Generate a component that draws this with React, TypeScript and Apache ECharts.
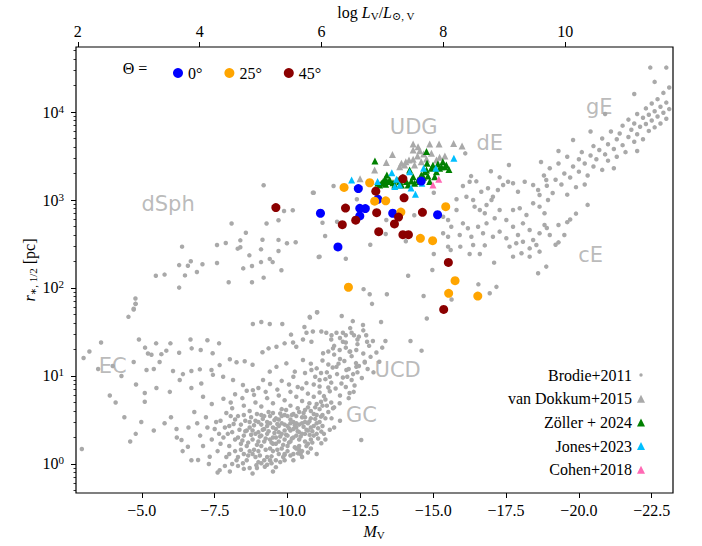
import React, { useEffect, useRef } from 'react';
import * as echarts from 'echarts';

// ---------- data: [M_V, r_half (pc)] ----------
const brodie: [number, number][] = [
  // dSph
  [-9.18, 1470], [-10.9, 1210], [-9.88, 750], [-10.18, 764], [-8.08, 540], [-9.28, 540], [-9.69, 588], [-8.57, 425],
  [-6.38, 295], [-7.58, 308], [-7.88, 325], [-8.38, 348], [-8.29, 280], [-8.38, 290], [-9.14, 354], [-9.69, 352],
  [-9.98, 322], [-10.28, 331], [-9.09, 275], [-9.69, 263], [-8.69, 235], [-9.39, 214], [-9.49, 197], [-9.09, 197],
  [-7.58, 192], [-7.08, 186], [-6.68, 201], [-6.58, 179], [-6.28, 182], [-8.48, 167], [-8.78, 178], [-9.79, 159],
  [-6.89, 152], [-6.48, 139], [-5.78, 142], [-5.48, 138], [-9.18, 131], [-7.98, 116], [-8.78, 116], [-6.28, 101],
  [-4.78, 76], [-4.78, 66], [-4.72, 57], [-4.54, 47], [-11.07, 225], [-10.76, 47], [-11.01, 53],
  // UCD / EC upper
  [-4.72, 58], [-4.79, 66], [-12.9, 66], [-14.78, 45], [-11.02, 53], [-10.77, 46], [-11.86, 48], [-12.24, 42],
  [-12.59, 38], [-13.21, 41], [-8.81, 39], [-9.1, 41], [-9.39, 39], [-9.82, 39], [-10.58, 36], [-10.65, 31],
  [-10.87, 32], [-11.16, 32], [-11.33, 31], [-11.51, 29], [-11.68, 31], [-11.9, 31], [-12.0, 29], [-10.12, 29.5],
  [-10.53, 26], [-10.19, 24], [-12.28, 29], [-12.4, 26], [-12.73, 24.5], [-12.93, 25], [-13.36, 25], [-14.22, 25],
  [-14.6, 19.4], [-4.9, 26], [-5.49, 23.5], [-5.98, 23.5], [-6.67, 26], [-7.25, 25.5], [-7.65, 23.5], [-5.11, 21],
  [-5.21, 18], [-5.33, 17.4], [-5.67, 17.7], [-5.84, 19.4], [-6.28, 18.4], [-6.71, 20.6], [-7.02, 19.7], [-7.43, 18.1],
  [-4.72, 14.4], [-5.61, 14.4], [-5.16, 11.7], [-5.41, 12.0], [-6.07, 11.4], [-6.41, 10.5], [-6.7, 11.4], [-6.99, 11.9],
  [-7.39, 11.7], [-7.67, 13.3], [-8.02, 15.5], [-8.25, 14.3], [-8.53, 14.7], [-8.8, 13.4], [-9.14, 18.6], [-9.35, 20.6],
  [-9.62, 21.5], [-9.9, 23.5], [-10.3, 21.5], [-10.82, 24.5], [-11.22, 18.1], [-11.56, 20.6], [-11.79, 19.7], [-12.13, 18.9],
  [-12.36, 19.7], [-11.9, 24.5], [-12.65, 14.5], [-12.36, 12.7], [-12.02, 11.7], [-11.68, 12.7], [-11.45, 9.8], [-11.1, 9.0],
  [-10.82, 11.7], [-10.53, 15.2], [-10.25, 11.2], [-9.96, 13.9], [-9.62, 12.7], [-9.39, 11.2], [-9.16, 9.0], [-8.81, 6.9],
  [-8.47, 7.9], [-8.13, 9.0], [-7.79, 9.8], [-7.44, 10.3], [-7.04, 8.2], [-6.7, 7.3], [-6.3, 9.0], [-5.96, 6.6],
  [-5.5, 7.3], [-5.1, 6.4], [-5.1, 5.1], [-4.98, 3.0], [-4.79, 2.2], [-5.41, 2.4], [-5.78, 2.9], [-6.19, 2.5],
  [-6.36, 1.87], [-6.58, 1.57], [-6.93, 1.11], [-7.33, 1.21], [-7.67, 0.85], [-8.02, 0.82], [-8.47, 1.02], [-8.93, 0.97],
  [-9.22, 0.93], [-9.45, 1.02], [-9.9, 1.27], [-10.36, 1.32], [-10.76, 2.14], [-11.16, 2.33], [-11.16, 1.72], [-11.51, 3.3],
  [-11.56, 4.3], [-11.79, 4.9], [-12.13, 6.4], [-12.27, 6.6], [-12.53, 1.87],
  [-11.6, 22], [-11.8, 27], [-12.0, 24], [-12.2, 31], [-12.45, 28], [-12.6, 33], [-12.15, 35], [-11.5, 26], [-11.4, 19], [-12.7, 29],
  // GC core
  [-8.5, 2.1], [-8.6, 1.6], [-8.7, 2.6], [-8.8, 1.9], [-8.9, 3.1], [-9.0, 2.3], [-9.0, 1.4], [-9.1, 2.8], [-9.2, 1.8],
  [-9.2, 3.5], [-9.3, 2.2], [-9.4, 1.5], [-9.4, 2.9], [-9.5, 2.0], [-9.5, 3.8], [-9.6, 1.7], [-9.6, 2.5], [-9.7, 3.2],
  [-9.7, 1.3], [-9.8, 2.2], [-9.8, 4.2], [-9.9, 1.9], [-9.9, 2.8], [-10.0, 3.5], [-10.0, 1.6], [-10.1, 2.4], [-10.1, 4.6],
  [-10.2, 2.0], [-10.2, 3.0], [-10.3, 1.5], [-10.3, 2.6], [-10.4, 3.9], [-10.4, 1.9], [-10.5, 2.9], [-10.5, 5.2], [-10.6, 2.2],
  [-10.6, 3.4], [-10.7, 1.7], [-10.7, 4.4], [-10.8, 2.6], [-10.9, 3.7], [-10.9, 5.8], [-11.0, 2.9], [-11.0, 4.8], [-11.1, 6.5],
  [-11.2, 3.6], [-11.3, 5.4], [-11.4, 7.4], [-8.3, 1.2], [-8.4, 2.8], [-8.5, 3.6], [-8.6, 1.1], [-8.7, 1.4], [-8.8, 2.4],
  [-8.9, 1.2], [-9.0, 3.0], [-9.1, 1.6], [-9.1, 2.1], [-9.2, 2.5], [-9.3, 1.2], [-9.3, 3.0], [-9.4, 1.9], [-9.5, 1.4],
  [-9.5, 2.6], [-9.6, 3.3], [-9.6, 1.1], [-9.7, 2.3], [-9.7, 1.8], [-9.8, 1.5], [-9.8, 2.9], [-9.9, 3.6], [-9.9, 1.3],
  [-10.0, 2.1], [-10.0, 2.7], [-10.1, 1.8], [-10.1, 3.2], [-10.2, 1.3], [-10.2, 2.5], [-10.3, 3.5], [-10.3, 2.1], [-10.4, 1.6],
  [-10.4, 2.8], [-10.5, 2.2], [-10.5, 1.4], [-10.6, 3.0], [-10.6, 4.1], [-10.7, 2.4], [-10.8, 3.3], [-10.8, 1.9], [-10.9, 2.7],
  [-11.0, 3.6], [-11.0, 2.2], [-11.1, 4.2], [-11.2, 2.7], [-11.3, 3.3], [-8.0, 1.6], [-8.1, 2.3], [-8.2, 1.4], [-8.2, 3.2],
  [-8.3, 2.0], [-8.4, 1.7], [-8.6, 2.4], [-8.7, 3.0], [-8.8, 1.3], [-8.9, 2.2], [-9.0, 1.8], [-9.1, 3.6], [-9.2, 1.1],
  [-9.3, 2.7], [-9.4, 3.5], [-9.5, 1.7], [-9.6, 2.0], [-9.7, 2.7], [-9.8, 3.5], [-9.9, 2.4], [-10.0, 1.4], [-10.1, 2.9],
  [-10.2, 3.7], [-10.3, 2.9], [-10.4, 2.3], [-10.5, 3.4], [-10.6, 1.8], [-10.7, 2.9], [-10.8, 4.0], [-10.9, 2.1], [-11.1, 3.0],
  [-11.2, 4.6], [-11.4, 3.9], [-11.5, 5.0], [-11.6, 4.4],
  [-7.6, 1.4], [-7.8, 2.0], [-7.9, 1.2], [-8.0, 2.7], [-8.1, 1.0], [-8.3, 0.95], [-8.5, 1.3], [-8.7, 0.9], [-9.0, 1.05],
  [-9.3, 0.98], [-9.6, 0.92], [-9.9, 1.1], [-10.2, 1.1], [-10.5, 1.2], [-10.8, 1.5], [-11.0, 1.3], [-11.3, 1.9], [-11.6, 2.6],
  [-11.8, 3.1], [-7.5, 2.5], [-7.7, 3.1], [-7.9, 3.8], [-8.1, 4.3], [-8.3, 3.5], [-8.5, 4.6], [-8.7, 4.0], [-8.9, 5.0],
  [-9.1, 4.5], [-9.3, 5.6], [-9.5, 4.9], [-9.7, 6.0], [-9.9, 5.3], [-10.1, 6.6], [-10.3, 5.8], [-10.5, 7.2], [-10.7, 6.3],
  [-10.9, 8.0], [-11.1, 7.6], [-11.3, 9.2], [-11.5, 8.4], [-11.7, 10.5], [-11.9, 9.6], [-12.1, 12.0], [-11.8, 6.0], [-12.0, 7.5],
  [-12.2, 9.0], [-12.4, 11.0], [-7.2, 3.4], [-7.0, 2.1], [-6.8, 3.9], [-6.6, 2.6], [-7.4, 4.8], [-7.1, 5.8], [-7.8, 5.5],
  [-8.2, 6.2], [-8.6, 6.8], [-9.0, 7.3], [-9.4, 8.1], [-9.8, 8.8], [-10.2, 9.8], [-10.6, 10.8], [-11.0, 12.2], [-11.4, 13.5],
  [-11.8, 15.6], [-12.2, 16.8], [-12.6, 18.0], [-11.6, 17.5], [-12.0, 21.0], [-12.4, 23.0], [-12.8, 22.0], [-11.2, 15.0],
  [-10.8, 13.8], [-6.4, 1.4], [-6.2, 2.0], [-6.0, 3.4], [-6.7, 1.1], [-7.3, 1.0], [-7.6, 0.8], [-8.8, 0.78], [-9.5, 0.82],
  [-8.45, 1.85], [-8.55, 2.35], [-8.65, 1.75], [-8.75, 2.15], [-8.85, 2.75], [-8.95, 1.65], [-9.05, 2.05], [-9.15, 2.45],
  [-9.25, 1.95], [-9.35, 2.35], [-9.45, 1.75], [-9.55, 2.25], [-9.65, 2.85], [-9.75, 2.05], [-9.85, 1.65], [-9.95, 2.15],
  [-10.05, 2.55], [-10.15, 1.95], [-10.25, 2.75], [-10.35, 2.35], [-10.45, 2.05], [-10.55, 2.65], [-10.65, 2.45], [-10.75, 3.05],
  [-10.85, 2.35], [-10.95, 3.25], [-11.05, 2.55], [-11.15, 3.45], [-8.55, 3.1], [-8.75, 3.4], [-8.95, 3.7], [-9.15, 3.25],
  [-9.35, 3.9], [-9.55, 3.15], [-9.75, 3.75], [-9.95, 4.1], [-10.15, 3.6], [-10.35, 4.3], [-10.55, 3.8], [-10.75, 4.9],
  [-10.95, 4.4], [-11.15, 5.1], [-11.35, 4.6], [-8.65, 1.25], [-8.85, 1.45], [-9.05, 1.25], [-9.25, 1.45], [-9.45, 1.22],
  [-9.65, 1.45], [-9.85, 1.2], [-10.05, 1.75], [-10.25, 1.55], [-10.45, 1.3], [-10.65, 1.6], [-10.85, 1.75], [-11.05, 1.95],
  [-11.25, 2.2], [-11.45, 2.45], [-8.2, 1.9], [-8.35, 2.45], [-8.15, 2.85], [-8.4, 1.45], [-7.95, 2.2], [-7.7, 1.7],
  [-7.85, 2.6], [-8.05, 3.5], [-7.65, 2.2], [-7.4, 1.9], [-7.55, 3.0], [-7.25, 2.6], [-7.1, 1.6], [-6.9, 2.9], [-9.1, 1.02],
  [-9.4, 1.1], [-9.75, 1.05], [-8.95, 0.9], [-10.1, 1.25], [-10.4, 1.45], [-10.7, 1.35], [-8.25, 1.1], [-8.5, 0.88],
  [-8.0, 1.3], [-7.85, 0.95],
  [-11.25, 5.9], [-11.45, 6.7], [-11.65, 7.2], [-11.85, 8.2], [-12.05, 9.8], [-12.25, 10.5], [-12.45, 13.0], [-12.65, 14.2],
  [-12.85, 16.5], [-13.05, 18.5], [-13.25, 21.0], [-12.1, 5.6], [-12.3, 7.8], [-12.55, 9.5], [-12.75, 12.0], [-12.95, 11.0],
  [-13.15, 14.5], [-11.35, 11.0], [-11.55, 12.5], [-11.75, 13.8], [-11.95, 14.8], [-12.15, 19.0], [-12.35, 14.0], [-10.95, 9.8],
  [-11.15, 10.8], [-10.65, 8.3], [-10.35, 7.5], [-10.05, 8.0], [-9.65, 7.0], [-9.25, 6.6], [-8.85, 6.1], [-8.45, 5.6], [-8.05, 5.0],
  // EC, far left
  [-2.94, 1.48], [-3.0, 16], [-3.2, 19], [-3.5, 12], [-3.6, 24], [-3.9, 6], [-4.1, 5], [-4.4, 3.4], [-4.3, 10], [-4.0, 13],
  [-4.8, 8], [-4.6, 1.8],
  // intermediate, dE, cE
  [-10.87, 1210], [-11.58, 1440], [-12.38, 1020], [-11.2, 552], [-11.7, 567], [-11.29, 390], [-11.1, 227], [-12.0, 215],
  [-12.84, 310], [-13.37, 411], [-13.39, 593], [-14.06, 340], [-14.35, 670], [-15.02, 1210], [-15.02, 243], [-14.97, 160],
  [-15.51, 383], [-15.6, 270], [-15.93, 295], [-14.14, 138], [-12.61, 97], [-12.82, 85], [-13.41, 85], [-14.67, 81],
  [-15.63, 74], [-16.55, 110], [-16.37, 308], [-16.77, 305], [-16.6, 243], [-16.25, 243], [-17.09, 194], [-17.6, 2500],
  [-16.98, 2120], [-17.28, 1810], [-16.3, 1870], [-16.1, 3390], [-16.48, 1630], [-16.25, 1610], [-16.02, 1440], [-15.8, 1020],
  [-16.14, 1090], [-16.37, 1000], [-16.65, 1240], [-16.88, 1360], [-17.05, 1090], [-16.42, 840], [-16.6, 770], [-16.77, 706],
  [-16.83, 877], [-17.0, 1000], [-17.22, 1300], [-17.4, 1480], [-17.57, 1610], [-17.74, 1550], [-17.91, 1240], [-18.14, 1610],
  [-18.43, 1480], [-18.65, 1140], [-18.88, 1690], [-18.94, 1000], [-17.28, 770], [-17.11, 620], [-17.51, 593], [-17.74, 770],
  [-17.97, 805], [-18.2, 676], [-18.43, 918], [-18.65, 840], [-18.82, 706], [-15.34, 646], [-15.51, 593], [-15.62, 497],
  [-15.8, 770], [-16.02, 543], [-16.19, 477], [-16.31, 383], [-16.54, 497], [-16.71, 419], [-16.83, 543], [-17.05, 383],
  [-17.28, 437], [-17.51, 367], [-17.74, 497], [-17.91, 400], [-18.08, 543], [-18.31, 457], [-18.43, 351], [-18.65, 419],
  [-18.82, 520], [-17.62, 295], [-17.85, 322], [-18.08, 336], [-18.31, 282], [-17.74, 227], [-18.03, 248], [-18.31, 227],
  [-18.54, 308], [-18.65, 259], [-15.34, 419], [-15.51, 295], [-15.91, 400], [-17.17, 103], [-16.94, 87], [-18.88, 175],
  [-18.6, 147], [-19.3, 520], [-19.5, 400], [-19.2, 310], [-19.7, 600], [-19.0, 400], [-19.3, 330], [-18.9, 480],
  [-19.6, 560], [-19.9, 700], [-20.3, 880],
  // gE
  [-18.6, 1300], [-18.8, 1900], [-18.9, 1450], [-19.0, 2300], [-19.1, 1200], [-19.2, 1700], [-19.3, 2600], [-19.4, 1500],
  [-19.5, 2000], [-19.6, 3100], [-19.7, 1800], [-19.8, 2400], [-19.9, 1400], [-20.0, 2900], [-20.0, 2100], [-20.1, 3500],
  [-20.2, 2600], [-20.3, 1900], [-20.4, 3200], [-20.5, 4100], [-20.5, 2400], [-20.6, 2900], [-20.7, 3700], [-20.8, 5000],
  [-20.8, 2200], [-20.9, 3300], [-21.0, 4300], [-21.0, 2800], [-21.1, 6000], [-21.2, 3800], [-21.3, 4900], [-21.3, 3100],
  [-21.4, 5700], [-21.5, 7000], [-21.5, 4200], [-21.6, 3500], [-21.7, 5200], [-21.7, 8200], [-21.8, 6300], [-21.9, 4600],
  [-21.9, 7400], [-22.0, 9500], [-22.0, 5600], [-22.1, 6800], [-22.2, 8600], [-22.2, 4900], [-22.3, 11000], [-22.3, 7300],
  [-22.4, 6100], [-22.4, 9300], [-22.5, 12500], [-22.5, 8000], [-22.6, 10200], [-22.6, 6700], [-22.7, 14000], [-22.7, 8900],
  [-22.8, 11500], [-22.8, 7400], [-22.9, 9800], [-22.9, 16500], [-23.0, 12800], [-23.0, 8400], [-23.1, 10800], [-23.1, 19000],
  [-22.45, 32000], [-23.0, 32000], [-22.6, 22000], [-21.9, 16000], [-20.9, 9500], [-20.4, 6000], [-19.8, 4800], [-19.3, 3600],
  [-18.7, 2700], [-20.2, 1500], [-19.6, 1150], [-21.2, 2300], [-22.0, 3600],
];

const vanDokkum: [number, number][] = [
  [-13.6, 3300], [-13.39, 2660], [-12.99, 2190], [-12.49, 1740], [-14.31, 4330], [-14.48, 4040], [-14.88, 4330],
  [-15.2, 4330], [-15.7, 4400], [-15.99, 4110], [-14.31, 3700], [-14.54, 3630], [-14.67, 3330], [-14.94, 3400],
  [-15.22, 3060], [-15.4, 3160], [-13.91, 2610], [-14.06, 2720], [-14.17, 2850], [-13.85, 2390], [-14.02, 2500],
  [-14.31, 2900], [-14.46, 3160], [-14.77, 2930], [-15.11, 2850], [-14.36, 2500], [-14.59, 2720],
];

const zoller: [number, number][] = [
  [-13.0, 2770], [-14.77, 3550], [-13.41, 1920], [-13.35, 1740], [-13.51, 1690], [-13.22, 1550], [-13.37, 1510],
  [-13.62, 1570], [-13.85, 1620], [-14.08, 1620], [-14.25, 1640], [-14.31, 1840], [-14.19, 2190], [-14.48, 1690],
  [-14.67, 1810], [-14.82, 1870], [-14.77, 2190], [-14.94, 2290], [-14.79, 2610], [-14.99, 2480], [-15.16, 2570],
  [-15.28, 2390], [-15.45, 2500], [-15.54, 2220], [-15.33, 2720], [-13.96, 1810], [-13.79, 1690], [-13.45, 1620],
  [-13.68, 1480], [-13.91, 1480], [-14.14, 1480], [-14.36, 1550], [-14.59, 1920], [-14.71, 2100], [-14.88, 1620],
  [-15.05, 1840], [-15.11, 2100], [-15.22, 2290], [-15.4, 2390], [-14.54, 1620], [-13.28, 1620], [-13.16, 1480],
  [-13.1, 1550],
];

const jones: [number, number][] = [
  [-12.2, 1690], [-13.09, 1620], [-13.58, 2040], [-14.19, 2100], [-14.67, 2290], [-15.09, 2290], [-15.71, 2980],
  [-13.68, 1420], [-13.85, 1480], [-14.24, 1370], [-14.39, 1160], [-14.61, 1550], [-13.74, 1720],
];

const cohen: [number, number][] = [[-15.19, 1720], [-14.99, 1480]];

const theta0: [number, number][] = [
  [-11.13, 707], [-12.43, 1350], [-13.1, 1020], [-12.48, 804], [-12.67, 800], [-12.48, 660], [-13.61, 707],
  [-14.59, 1640], [-15.15, 680], [-11.73, 293],
];
const theta25: [number, number][] = [
  [-11.94, 1390], [-12.82, 1570], [-12.99, 970], [-13.37, 980], [-13.89, 730], [-15.43, 840], [-14.56, 367],
  [-14.98, 345], [-12.09, 102], [-15.75, 121], [-15.53, 87], [-16.53, 81],
];
const theta45: [number, number][] = [
  [-13.96, 1740], [-13.03, 1260], [-14.0, 1060], [-11.99, 810], [-13.06, 717], [-14.63, 725], [-13.81, 640],
  [-11.88, 525], [-12.34, 590], [-13.67, 535], [-13.13, 436], [-13.96, 404], [-14.15, 404], [-15.52, 195],
  [-9.6, 820], [-15.36, 57],
];

const xTicks = [-5, -7.5, -10, -12.5, -15, -17.5, -20, -22.5];
const topTicks = [2, 4, 6, 8, 10];
const yDecades = [0, 1, 2, 3, 4];

const regionLabels: { text: string; M: number; r: number }[] = [
  { text: 'UDG', M: -14.33, r: 6760 },
  { text: 'dE', M: -16.94, r: 4440 },
  { text: 'gE', M: -20.7, r: 11400 },
  { text: 'dSph', M: -5.9, r: 900 },
  { text: 'cE', M: -20.4, r: 235 },
  { text: 'EC', M: -4.0, r: 13 },
  { text: 'UCD', M: -13.78, r: 11.7 },
  { text: 'GC', M: -12.54, r: 3.6 },
];

const SERIF = '"Liberation Serif", "DejaVu Serif", serif';
const GRAY = '#a9a9a9';

const X_MIN = -23.23, X_MAX = -2.74;
const Y_MIN = -0.33, Y_MAX = 4.739;

const toLog = (arr: [number, number][]) => arr.map(([m, r]) => [m, Math.log10(r)]);

export default function App() {
  const ref = useRef<HTMLDivElement>(null);
  useEffect(() => {
    document.body.style.margin = '0';
    const chart = echarts.init(ref.current!, null, { renderer: 'svg' });

    const minor: number[] = [];
    for (let d = -1; d <= 4; d++) {
      for (let k = 2; k <= 9; k++) {
        const v = d + Math.log10(k);
        if (v > Y_MIN && v < Y_MAX) minor.push(v);
      }
    }

    const FS = 16;
    const labelStyle = { color: '#000', fontFamily: SERIF, fontSize: FS };

    const scatter = (name: string, data: [number, number][], symbol: string, size: number, color: string, z: number) => ({
      name,
      type: 'scatter',
      data: toLog(data),
      symbol,
      symbolSize: size,
      itemStyle: { color, opacity: 1 },
      xAxisIndex: 0,
      yAxisIndex: 0,
      z,
      silent: true,
    });

    const sub = { fontFamily: SERIF, fontSize: 11, lineHeight: 11, verticalAlign: 'bottom', fill: '#000' };
    const ital = { fontFamily: SERIF, fontSize: 16, fontStyle: 'italic', lineHeight: 18, fill: '#000' };

    const option: any = {
      animation: false,
      grid: { left: 76, right: 29, top: 47, bottom: 53, show: true, borderColor: '#000', borderWidth: 1.2, backgroundColor: 'transparent' },
      xAxis: [
        {
          type: 'value', inverse: true, min: X_MIN, max: X_MAX, position: 'bottom',
          axisLine: { show: false, onZero: false }, splitLine: { show: false },
          axisTick: { show: true, length: 5, customValues: xTicks, lineStyle: { color: '#000', width: 1 } },
          axisLabel: { ...labelStyle, customValues: xTicks, margin: 9, formatter: (v: number) => v.toFixed(1).replace('-', '\u2212') },
        },
        {
          type: 'value', min: 1.97, max: 11.77, position: 'top',
          axisLine: { show: false, onZero: false }, splitLine: { show: false },
          axisTick: { show: true, length: 5, customValues: topTicks, lineStyle: { color: '#000', width: 1 } },
          axisLabel: { ...labelStyle, customValues: topTicks, margin: 8, formatter: (v: number) => String(v) },
        },
      ],
      yAxis: [
        {
          type: 'value', min: Y_MIN, max: Y_MAX, position: 'left',
          axisLine: { show: false, onZero: false }, splitLine: { show: false },
          axisTick: { show: true, length: 5, customValues: yDecades, lineStyle: { color: '#000', width: 1 } },
          axisLabel: {
            customValues: yDecades, margin: 12,
            formatter: (v: number) => `{a|10}{b|${Math.round(v)}}`,
            rich: {
              a: { ...labelStyle, lineHeight: 18 },
              b: { color: '#000', fontFamily: SERIF, fontSize: 11, lineHeight: 11, verticalAlign: 'top' },
            },
          },
        },
        {
          type: 'value', min: Y_MIN, max: Y_MAX, position: 'left',
          axisLine: { show: false, onZero: false }, splitLine: { show: false },
          axisTick: { show: true, length: 2.5, customValues: minor, lineStyle: { color: '#000', width: 0.8 } },
          axisLabel: { show: false },
        },
      ],
      legend: [
        {
          data: ['0°', '25°', '45°'], orient: 'horizontal', left: 168, top: 60, icon: 'circle',
          itemWidth: 10, itemHeight: 10, itemGap: 22, selectedMode: false,
          textStyle: { ...labelStyle, lineHeight: 16 },
        },
        {
          data: [
            { name: 'Brodie+2011', icon: 'path://M0 0M8 8M2.3 4a1.7 1.7 0 1 0 3.4 0a1.7 1.7 0 1 0 -3.4 0Z' },
            { name: 'van Dokkum+2015', icon: 'triangle' },
            { name: 'Zöller + 2024', icon: 'triangle' },
            { name: 'Jones+2023', icon: 'triangle' },
            { name: 'Cohen+2018', icon: 'triangle' },
          ],
          orient: 'vertical', align: 'right', right: 52, top: 361,
          itemWidth: 8, itemHeight: 8, itemGap: 5.7, selectedMode: false,
          textStyle: { ...labelStyle, lineHeight: 18 },
        },
      ],
      graphic: [
        { type: 'text', x: 135, y: 68, style: { text: 'Θ =', fill: '#000', fontFamily: SERIF, fontSize: 16, textAlign: 'center', textVerticalAlign: 'middle', align: 'center', verticalAlign: 'middle' } },
        {
          type: 'text', x: 376, y: 12,
          style: {
            text: 'log {i|L}{s|V}/{i|L}{s|⊙, V}', fill: '#000', fontFamily: SERIF, fontSize: 16, lineHeight: 18,
            textAlign: 'center', textVerticalAlign: 'middle', align: 'center', verticalAlign: 'middle',
            rich: { i: ital, s: sub },
          },
        },
        {
          type: 'text', x: 374, y: 531,
          style: {
            text: '{i|M}{s|V}', fill: '#000', fontFamily: SERIF, fontSize: 16, lineHeight: 18,
            textAlign: 'center', textVerticalAlign: 'middle', align: 'center', verticalAlign: 'middle',
            rich: { i: ital, s: sub },
          },
        },
        {
          type: 'text', x: 29, y: 270, rotation: Math.PI / 2,
          style: {
            text: '{i|r}{s|∗, 1/2} [pc]', fill: '#000', fontFamily: SERIF, fontSize: 16, lineHeight: 18,
            textAlign: 'center', textVerticalAlign: 'middle', align: 'center', verticalAlign: 'middle',
            rich: { i: ital, s: sub },
          },
        },
      ],
      series: [
        scatter('Brodie+2011', brodie, 'circle', 4.5, GRAY, 2),
        scatter('van Dokkum+2015', vanDokkum, 'triangle', 7, GRAY, 3),
        scatter('Zöller + 2024', zoller, 'triangle', 7, '#008000', 4),
        scatter('Jones+2023', jones, 'triangle', 7, '#00bfff', 5),
        scatter('Cohen+2018', cohen, 'triangle', 7, '#ff69b4', 6),
        scatter('0°', theta0, 'circle', 9, '#0000ff', 7),
        scatter('25°', theta25, 'circle', 9, '#ffa500', 8),
        scatter('45°', theta45, 'circle', 9, '#8b0000', 9),
        {
          type: 'scatter', name: 'regions', xAxisIndex: 0, yAxisIndex: 0, symbolSize: 0, silent: true, z: 1,
          data: regionLabels.map((l) => ({ value: [l.M, Math.log10(l.r)], name: l.text })),
          label: {
            show: true, position: 'inside', formatter: (p: any) => p.name,
            color: GRAY, fontFamily: '"DejaVu Sans", sans-serif', fontSize: 21,
          },
        },
      ],
    };
    chart.setOption(option);
    return () => chart.dispose();
  }, []);
  return <div ref={ref} style={{ width: 702, height: 546 }} />;
}
